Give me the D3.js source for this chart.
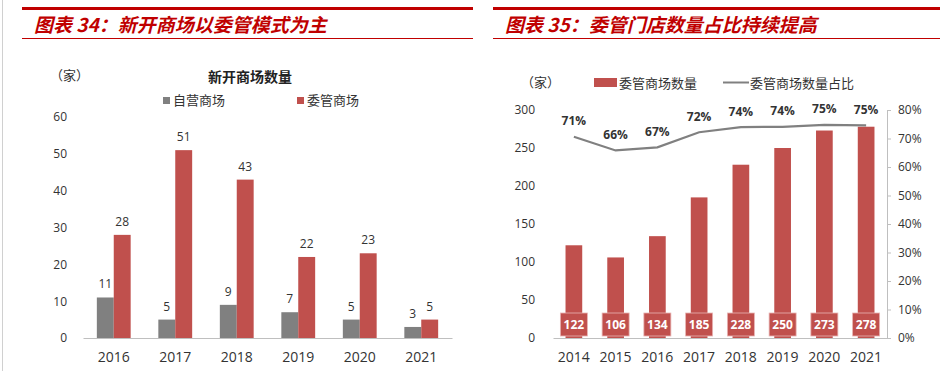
<!DOCTYPE html>
<html>
<head>
<meta charset="utf-8">
<script src="https://cdn.jsdelivr.net/npm/d3@7"></script>
<style>
  body { margin: 0; background: #fff; }
  svg { display: block; font-family: "Open Sans", "Noto Sans CJK SC", sans-serif; }
</style>
</head>
<body>
<svg width="940" height="371"></svg>
<script>
// left chart data
const years1 = ['2016', '2017', '2018', '2019', '2020', '2021'];
const series1 = ['自营商场', '委管商场'];
const selfRun = [11, 5, 9, 7, 5, 3];
const managed = [28, 51, 43, 22, 23, 5];
const yTicks1 = [0, 10, 20, 30, 40, 50, 60];

// right chart data
const years2 = ['2014', '2015', '2016', '2017', '2018', '2019', '2020', '2021'];
const managedTotal = [122, 106, 134, 185, 228, 250, 273, 278];
const managedShare = [70.6, 65.8, 66.9, 72.2, 74.0, 74.1, 74.8, 74.6];
const yTicks2 = [0, 50, 100, 150, 200, 250, 300];
const pctTicks = [0, 10, 20, 30, 40, 50, 60, 70, 80];

const red = '#C0504D';
const grey = '#808080';
const axisGrey = '#BFBFBF';
const titleRed = '#C00000';

const svg = d3.select('svg');

// page frame
svg.append('line').attr('x1', 2.5).attr('x2', 2.5).attr('y1', 0).attr('y2', 371)
   .attr('stroke', '#D0D0D0').attr('stroke-width', 1);

const drawHeader = (x0, x1, text) => {
    svg.append('rect').attr('x', x0).attr('y', 7).attr('width', x1 - x0).attr('height', 3).attr('fill', titleRed);
    svg.append('rect').attr('x', x0).attr('y', 38).attr('width', x1 - x0).attr('height', 1).attr('fill', titleRed);
    svg.append('text')
       .attr('x', x0 + 12).attr('y', 32)
       .attr('fill', titleRed)
       .style('font-family', '"Noto Sans CJK SC", sans-serif')
       .style('font-size', '19px')
       .style('font-weight', 'bold')
       .style('font-style', 'italic')
       .text(text);
};

drawHeader(22, 473, '图表 34：新开商场以委管模式为主');
drawHeader(493, 940, '图表 35：委管门店数量占比持续提高');

// ---------- left chart ----------
const x0 = d3.scaleBand().domain(years1).range([83, 452]).paddingInner(0.45).paddingOuter(0.225);
const x1 = d3.scaleBand().domain(series1).range([0, x0.bandwidth()]);
const y1 = d3.scaleLinear().domain([0, 60]).range([338, 117]);

const left = svg.append('g');

left.append('text').attr('x', 50).attr('y', 80).style('font-size', '13px').attr('fill', '#333')
    .text('（家）');
left.append('text').attr('x', 250).attr('y', 82).attr('text-anchor', 'middle')
    .style('font-size', '14px').style('font-weight', 'bold').attr('fill', '#222')
    .text('新开商场数量');

const legend1 = [[series1[0], grey, 163], [series1[1], red, 297]];
legend1.forEach(([name, color, lx]) => {
    left.append('rect').attr('x', lx).attr('y', 97).attr('width', 7).attr('height', 7).attr('fill', color);
    left.append('text').attr('x', lx + 10).attr('y', 105).style('font-size', '13px').attr('fill', '#333').text(name);
});

const yAxis1 = d3.axisLeft(y1).tickValues(yTicks1).tickSize(0).tickPadding(0);
left.append('g').attr('transform', 'translate(67,0)').call(yAxis1)
    .call(g => g.select('.domain').remove())
    .call(g => g.selectAll('text').style('font-size', '12px').attr('fill', '#333')
        .style('font-family', '"Open Sans", sans-serif'));

const rows1 = years1.map((yr, i) => ({ year: yr, vals: [selfRun[i], managed[i]] }));

const groups = left.selectAll('.grp').data(rows1).enter().append('g')
    .attr('transform', d => 'translate(' + x0(d.year) + ',0)');

groups.selectAll('rect').data(d => d.vals.map((v, k) => ({ key: series1[k], v: v })))
    .enter().append('rect')
    .attr('x', d => x1(d.key))
    .attr('y', d => y1(d.v))
    .attr('width', x1.bandwidth())
    .attr('height', d => y1(0) - y1(d.v))
    .attr('fill', d => d.key === series1[0] ? grey : red);

groups.selectAll('text').data(d => d.vals.map((v, k) => ({ key: series1[k], v: v })))
    .enter().append('text')
    .attr('x', d => x1(d.key) + x1.bandwidth() / 2)
    .attr('y', d => y1(d.v) - 9)
    .attr('text-anchor', 'middle')
    .style('font-size', '12px').attr('fill', '#333')
    .text(d => d.v);

const xAxis1 = d3.axisBottom(x0).tickSize(0).tickPadding(14);
left.append('g').attr('transform', 'translate(0,338)').call(xAxis1)
    .call(g => g.select('.domain').attr('stroke', axisGrey))
    .call(g => g.selectAll('text').style('font-size', '14px').attr('fill', '#333')
        .style('font-family', '"Open Sans", sans-serif'));

// ---------- right chart ----------
const xb = d3.scaleBand().domain(years2).range([553, 887]).paddingInner(0.6).paddingOuter(0.3);
const yl = d3.scaleLinear().domain([0, 300]).range([338, 110]);
const yr = d3.scaleLinear().domain([0, 80]).range([338, 110]);

const right = svg.append('g');

right.append('text').attr('x', 521).attr('y', 87).style('font-size', '13px').attr('fill', '#333')
     .text('（家）');

right.append('rect').attr('x', 594).attr('y', 78).attr('width', 23).attr('height', 9).attr('fill', red);
right.append('text').attr('x', 619).attr('y', 88).style('font-size', '13px').attr('fill', '#333').text('委管商场数量');
right.append('line').attr('x1', 723).attr('x2', 749).attr('y1', 82.5).attr('y2', 82.5)
     .attr('stroke', grey).attr('stroke-width', 2);
right.append('text').attr('x', 750).attr('y', 88).style('font-size', '13px').attr('fill', '#333').text('委管商场数量占比');

const yAxisL = d3.axisLeft(yl).tickValues(yTicks2).tickSize(0).tickPadding(0);
right.append('g').attr('transform', 'translate(535,0)').call(yAxisL)
     .call(g => g.select('.domain').remove())
     .call(g => g.selectAll('text').style('font-size', '12px').attr('fill', '#333')
         .style('font-family', '"Open Sans", sans-serif'));

const yAxisR = d3.axisRight(yr).tickValues(pctTicks).tickSize(4).tickSizeOuter(0).tickPadding(7)
    .tickFormat(d => d + '%');
right.append('g').attr('transform', 'translate(887,0)').call(yAxisR)
     .call(g => g.select('.domain').attr('stroke', axisGrey))
     .call(g => g.selectAll('line').attr('stroke', axisGrey))
     .call(g => g.selectAll('text').style('font-size', '12px').attr('fill', '#333')
         .style('font-family', '"Open Sans", sans-serif'));

right.selectAll('.bar').data(managedTotal).enter().append('rect')
     .attr('x', (d, i) => xb(years2[i]))
     .attr('y', d => yl(d))
     .attr('width', xb.bandwidth())
     .attr('height', d => yl(0) - yl(d))
     .attr('fill', red);

const xAxis2 = d3.axisBottom(xb).tickSize(0).tickPadding(14);
right.append('g').attr('transform', 'translate(0,338)').call(xAxis2)
     .call(g => g.select('.domain').attr('stroke', axisGrey))
     .call(g => g.selectAll('text').style('font-size', '14px').attr('fill', '#333')
         .style('font-family', '"Open Sans", sans-serif'));

// value boxes near the base of each bar
const cx = d => xb(d) + xb.bandwidth() / 2;
right.selectAll('.vbox').data(managedTotal).enter().append('rect')
     .attr('x', (d, i) => cx(years2[i]) - 13.5)
     .attr('y', 313)
     .attr('width', 27).attr('height', 23)
     .attr('fill', red).attr('stroke', '#E8B4B3').attr('stroke-width', 0.8);
right.selectAll('.vtxt').data(managedTotal).enter().append('text')
     .attr('x', (d, i) => cx(years2[i]))
     .attr('y', 329)
     .attr('text-anchor', 'middle')
     .style('font-size', '12px').style('font-weight', 'bold').attr('fill', '#fff')
     .text(d => d);

// share line
const line = d3.line().x((d, i) => cx(years2[i])).y(d => yr(d));
right.append('path').datum(managedShare).attr('d', line)
     .attr('fill', 'none').attr('stroke', grey).attr('stroke-width', 2.2);

right.selectAll('.ptxt').data(managedShare).enter().append('text')
     .attr('x', (d, i) => cx(years2[i]))
     .attr('y', d => yr(d) - 11.5)
     .attr('text-anchor', 'middle')
     .style('font-size', '12px').style('font-weight', 'bold').attr('fill', '#333')
     .text(d => Math.round(d) + '%');
</script>
</body>
</html>
